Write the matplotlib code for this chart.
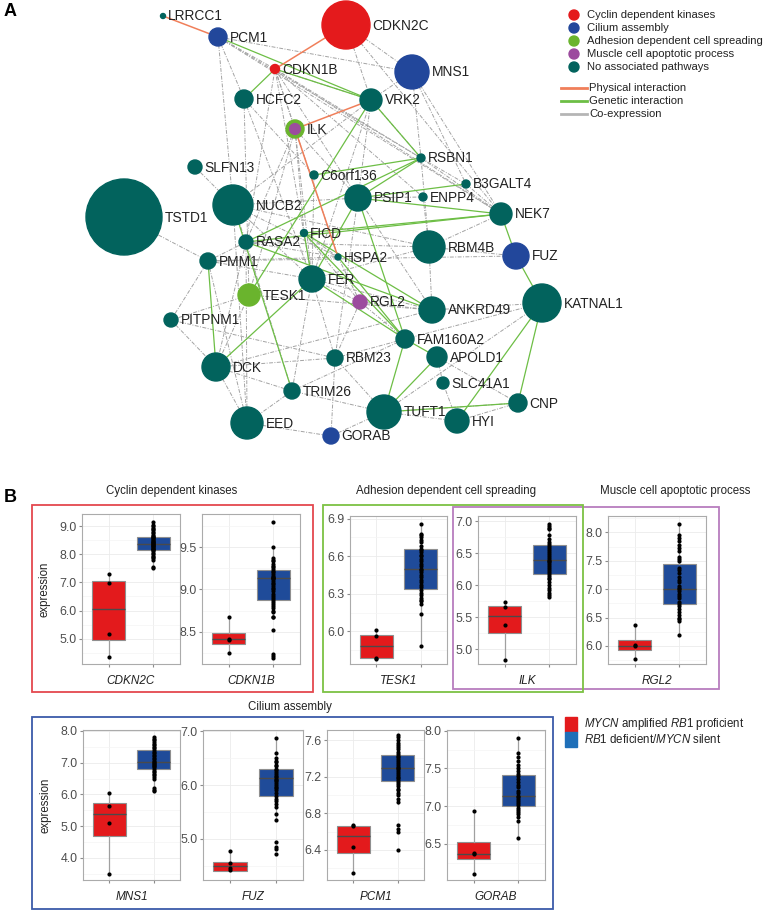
import numpy as np
import matplotlib.pyplot as plt
from matplotlib.patches import Circle, Rectangle
from matplotlib.lines import Line2D
from matplotlib.ticker import MultipleLocator

plt.rcParams['font.family'] = ['Liberation Sans', 'DejaVu Sans']
plt.rcParams['mathtext.fontset'] = 'custom'
plt.rcParams['mathtext.rm'] = 'Liberation Sans'
plt.rcParams['mathtext.it'] = 'Liberation Sans:italic'

W, H = 765, 911

# ---------------- network (panel A) ----------------
node_names = ["LRRCC1", "PCM1", "CDKN2C", "MNS1", "CDKN1B", "HCFC2", "VRK2", "ILK",
              "SLFN13", "C6orf136", "NUCB2", "PSIP1", "TSTD1", "RSBN1", "B3GALT4",
              "ENPP4", "NEK7", "RBM4B", "FUZ", "KATNAL1", "ANKRD49", "FAM160A2",
              "APOLD1", "SLC41A1", "CNP", "TUFT1", "HYI", "RASA2", "FICD", "HSPA2",
              "PMM1", "FER", "TESK1", "RGL2", "PITPNM1", "DCK", "RBM23", "TRIM26",
              "EED", "GORAB"]
node_x = [163, 218, 346, 412, 275, 244, 371, 295, 195, 314, 233, 358, 124, 421, 466,
          423, 501, 429, 516, 542, 432, 405, 437, 443, 518, 384, 457, 246, 304, 338,
          208, 312, 249, 360, 171, 216, 335, 292, 247, 331]
node_y = [16, 37, 25, 72, 69, 99, 100, 129, 167, 175, 205, 198, 217, 158, 184,
          197, 214, 247, 256, 303, 310, 339, 357, 383, 403, 412, 421, 242, 233, 257,
          261, 279, 295, 302, 320, 367, 358, 391, 423, 436]
node_size = [2.5, 9, 24, 17, 4.5, 9, 11, 9, 7, 4, 20, 13, 38, 4, 4,
             4, 11, 16, 13, 19, 13, 9, 10, 6, 9, 17, 12, 7, 3.5, 3,
             8, 13, 11, 7, 7, 14, 8, 8, 16, 8]
node_group = ["none", "cilium", "cdk", "cilium", "cdk", "none", "none", "ilk",
              "none", "none", "none", "none", "none", "none", "none",
              "none", "none", "none", "cilium", "none", "none", "none",
              "none", "none", "none", "none", "none", "none", "none", "none",
              "none", "none", "adhesion", "muscle", "none", "none", "none", "none",
              "none", "cilium"]

physical_edges = [("LRRCC1", "PCM1"), ("CDKN2C", "CDKN1B"), ("VRK2", "ILK"), ("ILK", "HSPA2")]
genetic_edges = [("PCM1", "VRK2"), ("CDKN1B", "HCFC2"), ("CDKN1B", "VRK2"), ("VRK2", "TESK1"),
                 ("VRK2", "RSBN1"), ("RSBN1", "C6orf136"), ("RSBN1", "PSIP1"), ("RSBN1", "RASA2"),
                 ("B3GALT4", "PSIP1"), ("NEK7", "FICD"), ("NEK7", "RASA2"), ("NEK7", "PSIP1"),
                 ("NEK7", "FUZ"), ("FUZ", "KATNAL1"), ("KATNAL1", "CNP"), ("KATNAL1", "HYI"),
                 ("TUFT1", "CNP"), ("TUFT1", "APOLD1"), ("TUFT1", "FAM160A2"),
                 ("FAM160A2", "APOLD1"), ("FAM160A2", "FICD"), ("FAM160A2", "FER"),
                 ("FAM160A2", "PSIP1"), ("FAM160A2", "HSPA2"), ("FER", "PSIP1"),
                 ("FER", "FICD"), ("DCK", "FER"), ("PMM1", "DCK"), ("NUCB2", "TRIM26"),
                 ("RASA2", "ANKRD49"), ("FICD", "ANKRD49")]
coexp_edges = [("PCM1", "MNS1"), ("PCM1", "HCFC2"), ("PCM1", "NUCB2"), ("PCM1", "RSBN1"),
               ("PCM1", "NEK7"), ("PCM1", "CDKN1B"), ("CDKN2C", "VRK2"), ("CDKN2C", "NEK7"),
               ("CDKN2C", "MNS1"), ("CDKN1B", "FER"), ("CDKN1B", "RASA2"), ("CDKN1B", "ILK"),
               ("CDKN1B", "RSBN1"), ("CDKN1B", "NEK7"), ("CDKN1B", "PSIP1"), ("CDKN1B", "HSPA2"),
               ("CDKN1B", "VRK2"), ("CDKN1B", "ENPP4"), ("MNS1", "RSBN1"), ("MNS1", "NEK7"),
               ("MNS1", "B3GALT4"), ("MNS1", "VRK2"), ("HCFC2", "FER"), ("HCFC2", "TESK1"),
               ("HCFC2", "C6orf136"), ("VRK2", "RSBN1"), ("VRK2", "PSIP1"), ("VRK2", "NUCB2"),
               ("VRK2", "FER"), ("ILK", "FER"), ("ILK", "RASA2"), ("ILK", "TESK1"),
               ("ILK", "FICD"), ("ILK", "PSIP1"), ("SLFN13", "NUCB2"), ("TSTD1", "PMM1"),
               ("NUCB2", "PSIP1"), ("NUCB2", "RBM4B"), ("NUCB2", "FER"), ("NUCB2", "EED"),
               ("NUCB2", "HSPA2"), ("NUCB2", "RASA2"), ("PSIP1", "ENPP4"), ("PSIP1", "ANKRD49"),
               ("PSIP1", "RBM23"), ("RSBN1", "RBM4B"), ("RSBN1", "B3GALT4"), ("RSBN1", "NEK7"),
               ("B3GALT4", "NEK7"), ("ENPP4", "RBM4B"), ("NEK7", "RBM4B"), ("RBM4B", "ANKRD49"),
               ("RBM4B", "FUZ"), ("RBM4B", "RASA2"), ("RBM4B", "FER"), ("FUZ", "PMM1"),
               ("KATNAL1", "ANKRD49"), ("KATNAL1", "TUFT1"), ("KATNAL1", "FAM160A2"),
               ("ANKRD49", "RGL2"), ("ANKRD49", "FER"), ("ANKRD49", "DCK"), ("ANKRD49", "TESK1"),
               ("FAM160A2", "RBM23"), ("FAM160A2", "TRIM26"), ("FAM160A2", "RGL2"),
               ("APOLD1", "SLC41A1"), ("APOLD1", "CNP"), ("CNP", "TUFT1"), ("CNP", "HYI"),
               ("TUFT1", "HYI"), ("TUFT1", "RBM23"), ("TUFT1", "TRIM26"), ("TUFT1", "GORAB"),
               ("RBM23", "DCK"), ("RBM23", "GORAB"), ("RBM23", "PITPNM1"), ("RBM23", "FER"),
               ("TRIM26", "DCK"), ("TRIM26", "EED"), ("TRIM26", "RASA2"), ("EED", "DCK"),
               ("EED", "GORAB"), ("EED", "PMM1"), ("EED", "RASA2"), ("DCK", "PITPNM1"),
               ("DCK", "TESK1"), ("DCK", "RASA2"), ("PITPNM1", "PMM1"), ("PITPNM1", "TESK1"),
               ("PMM1", "RASA2"), ("PMM1", "FER"), ("PMM1", "HSPA2"), ("RASA2", "HSPA2"),
               ("FICD", "HSPA2"), ("FICD", "RGL2"), ("HSPA2", "RGL2"), ("FER", "RGL2"),
               ("FER", "TRIM26"), ("RGL2", "RBM23"), ("SLC41A1", "HYI"), ("C6orf136", "FER")]

group_colors = {"cdk": "#E41A1C", "cilium": "#22479B", "adhesion": "#6AB42D",
                "muscle": "#9C4B9E", "none": "#02635D"}
node_legend = ["Cyclin dependent kinases", "Cilium assembly", "Adhesion dependent cell spreading",
               "Muscle cell apoptotic process", "No associated pathways"]
edge_legend = ["Physical interaction", "Genetic interaction", "Co-expression"]

# ---------------- expression (panel B) ----------------
genes = ["CDKN2C", "CDKN1B", "TESK1", "ILK", "RGL2", "MNS1", "FUZ", "PCM1", "GORAB"]
red_points = {
    "CDKN2C": [7.3, 6.97, 5.17, 4.35],
    "CDKN1B": [8.67, 8.41, 8.40, 8.25],
    "TESK1": [6.01, 5.96, 5.79, 5.78],
    "ILK": [5.74, 5.66, 5.38, 4.84],
    "RGL2": [6.36, 6.02, 5.99, 5.77],
    "MNS1": [6.05, 5.62, 5.1, 3.5],
    "FUZ": [4.77, 4.55, 4.47, 4.42],
    "PCM1": [6.67, 6.66, 6.43, 6.15],
    "GORAB": [6.94, 6.38, 6.36, 6.1],
}
blue_points = {
    "CDKN2C": [9.15, 9.05, 9.0, 8.95, 8.9, 8.85, 8.8, 8.75, 8.7, 8.65, 8.62, 8.6, 8.57, 8.55,
               8.5, 8.48, 8.45, 8.42, 8.4, 8.38, 8.36, 8.33, 8.3, 8.28, 8.25, 8.22, 8.2, 8.17,
               8.15, 8.1, 8.05, 8.0, 7.95, 7.9, 7.85, 7.8, 7.55, 7.5],
    "CDKN1B": [9.8, 9.5, 9.37, 9.35, 9.33, 9.3, 9.28, 9.26, 9.24, 9.22, 9.2, 9.18, 9.16, 9.15,
               9.14, 9.13, 9.12, 9.1, 9.08, 9.06, 9.04, 9.02, 9.0, 8.98, 8.95, 8.92, 8.9, 8.88,
               8.85, 8.83, 8.8, 8.78, 8.75, 8.73, 8.68, 8.67, 8.52, 8.24, 8.21, 8.19],
    "TESK1": [6.86, 6.78, 6.77, 6.75, 6.73, 6.71, 6.68, 6.66, 6.65, 6.63, 6.61, 6.6, 6.58, 6.56,
              6.54, 6.52, 6.5, 6.49, 6.47, 6.45, 6.43, 6.41, 6.39, 6.37, 6.35, 6.33, 6.31, 6.29,
              6.27, 6.25, 6.24, 6.22, 6.14, 5.88],
    "ILK": [6.95, 6.93, 6.9, 6.87, 6.78, 6.72, 6.68, 6.64, 6.61, 6.58, 6.55, 6.52, 6.49, 6.46,
            6.43, 6.4, 6.38, 6.36, 6.33, 6.3, 6.27, 6.24, 6.21, 6.18, 6.15, 6.12, 6.09, 6.05,
            6.0, 5.95, 5.92, 5.88, 5.85, 5.82],
    "RGL2": [8.15, 7.95, 7.9, 7.85, 7.77, 7.72, 7.68, 7.57, 7.53, 7.5, 7.38, 7.33, 7.28, 7.22,
             7.17, 7.12, 7.05, 7.02, 7.0, 6.97, 6.92, 6.88, 6.85, 6.78, 6.74, 6.7, 6.65, 6.6,
             6.55, 6.5, 6.47, 6.43, 6.2],
    "MNS1": [7.8, 7.75, 7.7, 7.65, 7.6, 7.55, 7.5, 7.45, 7.4, 7.35, 7.3, 7.25, 7.2, 7.15, 7.1,
             7.05, 7.03, 7.0, 6.97, 6.93, 6.9, 6.85, 6.8, 6.75, 6.7, 6.65, 6.6, 6.55, 6.5, 6.2,
             6.15, 6.1],
    "FUZ": [6.88, 6.6, 6.5, 6.45, 6.42, 6.38, 6.35, 6.3, 6.27, 6.24, 6.2, 6.17, 6.14, 6.12, 6.1,
            6.07, 6.04, 6.0, 5.97, 5.94, 5.9, 5.85, 5.8, 5.75, 5.7, 5.65, 5.6, 5.47, 5.35, 4.95,
            4.85, 4.81, 4.73],
    "PCM1": [7.65, 7.63, 7.6, 7.57, 7.55, 7.52, 7.5, 7.47, 7.45, 7.43, 7.41, 7.39, 7.37, 7.35,
             7.33, 7.31, 7.3, 7.28, 7.26, 7.24, 7.22, 7.2, 7.18, 7.16, 7.14, 7.12, 7.1, 7.07,
             7.05, 7.02, 7.0, 6.96, 6.92, 6.67, 6.63, 6.6, 6.4],
    "GORAB": [7.9, 7.7, 7.65, 7.6, 7.55, 7.5, 7.47, 7.43, 7.4, 7.36, 7.32, 7.28, 7.25, 7.2,
              7.17, 7.14, 7.12, 7.1, 7.07, 7.04, 7.01, 6.98, 6.95, 6.92, 6.89, 6.85, 6.8, 6.58],
}
# box statistics: (low whisker, q1, median, q3, high whisker)
red_box = {"CDKN2C": (4.35, 4.97, 6.07, 7.05, 7.3), "CDKN1B": (8.25, 8.36, 8.41, 8.48, 8.67),
           "TESK1": (5.78, 5.79, 5.88, 5.97, 6.01), "ILK": (4.84, 5.25, 5.52, 5.68, 5.74),
           "RGL2": (5.77, 5.93, 6.0, 6.11, 6.36), "MNS1": (3.5, 4.68, 5.37, 5.72, 6.05),
           "FUZ": (4.42, 4.41, 4.5, 4.58, 4.77), "PCM1": (6.15, 6.36, 6.55, 6.66, 6.67),
           "GORAB": (6.1, 6.3, 6.37, 6.53, 6.94)}
blue_box = {"CDKN2C": (7.5, 8.15, 8.38, 8.62, 9.15), "CDKN1B": (8.67, 8.88, 9.13, 9.23, 9.5),
            "TESK1": (5.88, 6.34, 6.5, 6.66, 6.86), "ILK": (5.82, 6.17, 6.39, 6.62, 6.95),
            "RGL2": (6.2, 6.73, 7.0, 7.45, 8.15), "MNS1": (6.08, 6.8, 7.03, 7.4, 7.8),
            "FUZ": (5.35, 5.8, 6.13, 6.3, 6.88), "PCM1": (6.9, 7.15, 7.3, 7.44, 7.65),
            "GORAB": (6.58, 7.0, 7.13, 7.41, 7.9)}
y_limits = {"CDKN2C": (4.1, 9.43), "CDKN1B": (8.12, 9.89), "TESK1": (5.74, 6.92),
            "ILK": (4.77, 7.08), "RGL2": (5.68, 8.29), "MNS1": (3.3, 8.03),
            "FUZ": (4.24, 7.02), "PCM1": (6.07, 7.71), "GORAB": (6.02, 8.01)}
y_ticks = {"CDKN2C": [5.0, 6.0, 7.0, 8.0, 9.0], "CDKN1B": [8.5, 9.0, 9.5],
           "TESK1": [6.0, 6.3, 6.6, 6.9], "ILK": [5.0, 5.5, 6.0, 6.5, 7.0],
           "RGL2": [6.0, 6.5, 7.0, 7.5, 8.0], "MNS1": [4.0, 5.0, 6.0, 7.0, 8.0],
           "FUZ": [5.0, 6.0, 7.0], "PCM1": [6.4, 6.8, 7.2, 7.6], "GORAB": [6.5, 7.0, 7.5, 8.0]}
group_labels = [r"$\mathit{MYCN}$ amplified $\mathit{RB1}$ proficient",
                r"$\mathit{RB1}$ deficient/$\mathit{MYCN}$ silent"]
box_fill = ["#E31A1C", "#1F4B99"]

# panel pixel rectangles (left, top, right, bottom)
panel_px = {"CDKN2C": (82, 514, 180, 664), "CDKN1B": (202, 514, 300, 664),
            "TESK1": (350, 516, 447, 664), "ILK": (478, 516, 576, 664),
            "RGL2": (608, 516, 706, 664), "MNS1": (83, 730, 180, 880),
            "FUZ": (203, 730, 303, 880), "PCM1": (327, 730, 424, 880),
            "GORAB": (447, 730, 545, 880)}

fig = plt.figure(figsize=(W / 100, H / 100), dpi=100)
ax0 = fig.add_axes([0, 0, 1, 1])
ax0.set_xlim(0, W)
ax0.set_ylim(H, 0)
ax0.axis("off")

pos = {n: (x, y) for n, x, y in zip(node_names, node_x, node_y)}


def draw_edges(edges, **kw):
    for a, b in edges:
        ax0.add_line(Line2D([pos[a][0], pos[b][0]], [pos[a][1], pos[b][1]], **kw))


draw_edges(coexp_edges, color="#a3a3a3", lw=0.7, linestyle=(0, (4, 1.5, 1, 1.5)), zorder=1)
draw_edges(genetic_edges, color="#6DBE45", lw=0.9, zorder=2)
draw_edges(physical_edges, color="#F07F5A", lw=1.1, zorder=3)

for n, x, y, r, g in zip(node_names, node_x, node_y, node_size, node_group):
    if g == "ilk":
        ax0.add_patch(Circle((x, y), r, color=group_colors["adhesion"], zorder=4))
        ax0.add_patch(Circle((x, y), r * 0.6, color=group_colors["muscle"], zorder=5))
    else:
        ax0.add_patch(Circle((x, y), r, color=group_colors[g], zorder=4))
    ax0.text(x + r + 2.5, y + 0.5, n, fontsize=9.9, color="#222222", va="center", ha="left", zorder=6)

ax0.text(4, 12, "A", fontsize=13, fontweight="bold", va="center")
ax0.text(4, 497, "B", fontsize=13, fontweight="bold", va="center")

# network legend
for i, (lab, g) in enumerate(zip(node_legend, ["cdk", "cilium", "adhesion", "muscle", "none"])):
    ly = 15 + i * 13
    ax0.add_patch(Circle((574, ly), 5, color=group_colors[g]))
    ax0.text(587, ly, lab, fontsize=8.1, va="center", color="#222222")
for i, (lab, c) in enumerate(zip(edge_legend, ["#F07F5A", "#6DBE45", "#b5b5b5"])):
    ly = 88 + i * 13
    ax0.plot([561, 587], [ly, ly], color=c, lw=2)
    ax0.text(589, ly, lab, fontsize=8.1, va="center", color="#222222")

# section frames and titles
frames = [((32, 505, 313, 692), "#E4484E", "Cyclin dependent kinases", 172, 491),
          ((453, 507, 719, 689), "#B77DBE", "Muscle cell apoptotic process", 675, 491),
          ((323, 505, 583, 692), "#7CC243", "Adhesion dependent cell spreading", 446, 491),
          ((32, 717, 553, 909), "#3B5BA9", "Cilium assembly", 290, 707)]
for (x0, y0, x1, y1), c, title, tx, ty in frames:
    ax0.add_patch(Rectangle((x0, y0), x1 - x0, y1 - y0, fill=False, edgecolor=c, lw=1.3))
    ax0.text(tx, ty, title, fontsize=8.3, ha="center", va="center", color="#222222")

# group legend
for i, (lab, c) in enumerate(zip(group_labels, box_fill)):
    ly = 717 + i * 15
    ax0.add_patch(Rectangle((565, ly), 12, 15, color=c if i == 0 else "#1F6FB8"))
    ax0.text(584, ly + 7.5, lab, fontsize=8.3, va="center", color="#222222")

for gname in genes:
    x0, y0, x1, y1 = panel_px[gname]
    ax = fig.add_axes([x0 / W, 1 - y1 / H, (x1 - x0) / W, (y1 - y0) / H])
    stats = []
    for box in (red_box[gname], blue_box[gname]):
        lo, q1, med, q3, hi = box
        stats.append({"whislo": lo, "q1": q1, "med": med, "q3": q3, "whishi": hi, "fliers": []})
    bp = ax.bxp(stats, positions=[1, 2], widths=0.75, patch_artist=True, showcaps=False,
                showfliers=False,
                boxprops=dict(edgecolor="#8f8f8f", lw=0.8),
                medianprops=dict(color="#4a4a4a", lw=1.0),
                whiskerprops=dict(color="#a0a0a0", lw=0.9), zorder=2)
    for patch, c in zip(bp["boxes"], box_fill):
        patch.set_facecolor(c)
    for xpos, pts in ((1, red_points[gname]), (2, blue_points[gname])):
        ax.scatter(np.full(len(pts), xpos), pts, s=9, color="black", zorder=3, linewidths=0)
    ax.set_xlim(0.4, 2.6)
    ax.set_ylim(*y_limits[gname])
    ticks = y_ticks[gname]
    ax.set_yticks(ticks)
    ax.set_yticklabels([f"{t:.1f}" for t in ticks])
    ax.yaxis.set_minor_locator(MultipleLocator((ticks[1] - ticks[0]) / 2))
    ax.set_xticks([1, 2])
    ax.set_xticklabels(["", ""])
    ax.grid(True, which="major", color="#ebebeb", lw=0.6, zorder=0)
    ax.grid(True, which="minor", axis="y", color="#f4f4f4", lw=0.5, zorder=0)
    ax.set_axisbelow(True)
    for s in ax.spines.values():
        s.set_color("#ababab")
        s.set_linewidth(0.8)
    ax.tick_params(which="major", length=2.5, color="#8c8c8c", labelcolor="#4d4d4d",
                   labelsize=8.9, pad=1.5)
    ax.tick_params(which="minor", length=0)
    ax.set_xlabel(gname, fontsize=8.5, style="italic", color="#222222", labelpad=4)
    if gname in ("CDKN2C", "MNS1"):
        ax.set_ylabel("expression", fontsize=8.3, color="#222222", labelpad=6)

fig.savefig("out.png", dpi=100)
